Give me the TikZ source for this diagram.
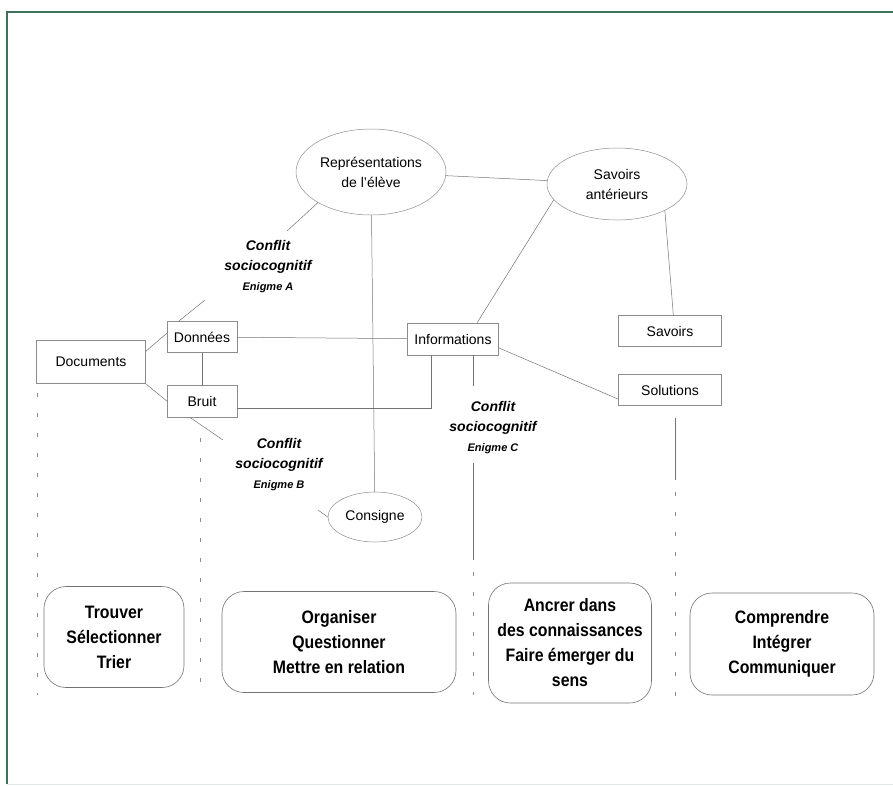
\documentclass[tikz,border=0pt]{standalone}
\usepackage{fontspec}
\setmainfont{Liberation Sans}
\newfontfamily\narrowsans[FakeStretch=0.88]{Liberation Sans}
\usetikzlibrary{shapes.geometric}
\definecolor{framegreen}{RGB}{62,112,86}

\begin{document}
\begin{tikzpicture}[x=1pt, y=-1pt,
    link/.style = {draw=black!55, line width=0.5pt},
    box/.style = {draw=black!45, line width=0.5pt, inner sep=0pt, font=\fontsize{14}{20}\selectfont},
    oval/.style = {draw=black!45, line width=0.5pt, ellipse, inner sep=0pt, align=center, font=\fontsize{14}{20}\selectfont},
    note/.style = {align=center, inner sep=0pt, font=\fontsize{14}{20}\selectfont\bfseries\itshape},
    task/.style = {draw=black!55, line width=0.6pt, rounded corners=22pt, align=center, inner sep=0pt, font=\narrowsans\bfseries\fontsize{18}{25}\selectfont},
    sep/.style = {draw=black!45, line width=0.6pt, dash pattern=on 4pt off 16pt}]
    \useasboundingbox (0,0) rectangle (893,785);
    % frame
    \draw[framegreen, line width=1.8pt] (893,12) -- (7,12) -- (7,784);
    \draw[framegreen!15, line width=1pt] (7,784) -- (893,784);

    % ellipses
    \node[oval, minimum width=150, minimum height=86] (repr) at (371,172) {Représentations\\de l'élève};
    \node[oval, minimum width=140, minimum height=72] (anter) at (617,184) {Savoirs\\antérieurs};
    \node[oval, minimum width=94, minimum height=50] (consigne) at (375,517) {Consigne};

    % boxes
    \node[box, minimum width=109, minimum height=43] (documents) at (91,362) {Documents};
    \node[box, minimum width=70, minimum height=31] (donnees) at (202,337) {Données};
    \node[box, minimum width=70, minimum height=32] (bruit) at (202,401) {Bruit};
    \node[box, minimum width=91, minimum height=32] (infos) at (453,339) {Informations};
    \node[box, minimum width=103, minimum height=31] (savoirs) at (670,331) {Savoirs};
    \node[box, minimum width=103, minimum height=31] (solutions) at (670,390) {Solutions};

    % conflicts
    \node[note] (confA) at (268,267) {Conflit\\sociocognitif\\{\fontsize{11}{14}\selectfont Enigme A}};
    \node[note] (confB) at (279,465) {Conflit\\sociocognitif\\{\fontsize{11}{14}\selectfont Enigme B}};
    \node[note] (confC) at (493,428) {Conflit\\sociocognitif\\{\fontsize{11}{14}\selectfont Enigme C}};

    \coordinate (a1) at (205,300);
    \coordinate (a2) at (287,231);
    \coordinate (b1) at (223,440);
    \coordinate (b2) at (318,510);
    \coordinate (c1) at (473,386);
    \coordinate (c2) at (473,463);
    \coordinate (c3) at (473,560);
    \coordinate (s1) at (675,418);
    \coordinate (s2) at (675,480);

    % links
    \draw[link] (repr) -- (anter);
    \draw[link] (repr) -- (consigne);
    \draw[link] (anter.194) -- (infos.34);
    \draw[link] (anter.-29) -- (savoirs.78);
    \draw[link] (infos.-11) -- (solutions.190);
    \draw[link] (documents.11) -- (donnees.174);
    \draw[link] (documents.south east) -- (bruit.west);
    \draw[link] (donnees) -- (bruit);
    \draw[link] (donnees) -- (infos);
    \draw[link] (bruit.-11) -| (infos.217);
    \draw[link] (donnees.146) -- (a1);
    \draw[link] (a2) -- (repr.210);
    \draw[link] (bruit.233) -- (b1);
    \draw[link] (b2) -- (consigne.west);
    \draw[link] (c1 |- infos.south) -- (c1);
    \draw[link] (c2) -- (c3);
    \draw[link] (s1) -- (s2);

    % columns
    \draw[sep] (37,393) -- (37,695);
    \draw[sep] (200,438) -- (200,695);
    \draw[sep] (473,572) -- (473,695);
    \draw[sep] (675,492) -- (675,703);

    % tasks
    \node[task, minimum width=140, minimum height=101] (trouver) at (114,637) {Trouver\\Sélectionner\\Trier};
    \node[task, minimum width=234, minimum height=101] (organiser) at (339,642) {Organiser\\Questionner\\Mettre en relation};
    \node[task, minimum width=163, minimum height=120] (ancrer) at (570,643) {Ancrer dans\\des connaissances\\Faire émerger du\\sens};
    \node[task, minimum width=184, minimum height=102] (comprendre) at (782,644) {Comprendre\\Intégrer\\Communiquer};
\end{tikzpicture}
\end{document}
